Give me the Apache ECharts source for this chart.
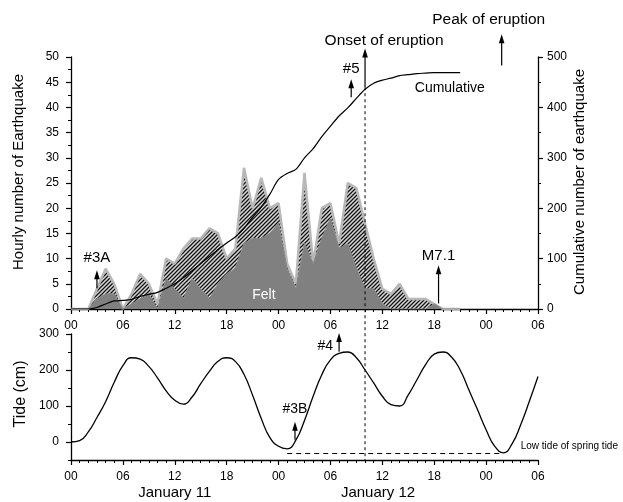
<!DOCTYPE html>
<html>
<head>
<meta charset="utf-8">
<script src="https://cdn.jsdelivr.net/npm/echarts@6/dist/echarts.min.js"></script>
<style>
html, body { margin: 0; padding: 0; background: #fff; }
#chart { width: 623px; height: 502px; }
</style>
</head>
<body>
<div id="chart"></div>
<script>
// hourly earthquake counts, hour 0 = Jan 11 00:00
var quakeHour = [0, 1, 2, 3, 4, 5, 6, 7, 8, 9, 10, 11, 12, 13, 14, 15, 16, 17, 18, 19, 20, 21, 22,
  23, 24, 25, 26, 27, 28, 29, 30, 31, 32, 33, 34, 35, 36, 37, 38, 39, 40, 41, 42, 43, 44, 45];
var totalCount = [0, 0, 0, 4, 8, 5, 0, 3, 7, 5, 1, 10, 9, 12, 14, 14, 16, 15, 10, 12, 28, 20, 26,
  20, 21, 9, 5, 27, 9, 20, 21, 13, 25, 24, 17, 10, 4, 3, 5, 2, 2, 2, 1, 0, 0, 0];
var feltCount = [0, 0, 0, 2, 3, 3, 0, 1, 2, 3, 0, 6, 4, 2, 6, 4, 2, 5, 7, 8, 13, 14, 14,
  15, 17, 8, 4, 13, 9, 14, 18, 12, 13, 8, 4, 4, 1, 0, 0, 0, 0, 0, 1, 0, 0, 0];
var cumulative = [0, 0, 0, 3, 10, 16, 17, 19, 25, 29, 33, 41, 50, 62, 76, 90, 104, 118, 131, 143, 160, 182, 202,
  228, 257, 269, 277, 300, 318, 342, 363, 383, 399, 418, 436, 448, 454, 458, 463, 465, 467, 468, 469, 469, 469, 469];

// tide level (cm)
var tideHour = [0, 1, 2, 3, 4, 5, 6, 7, 8, 9, 10, 11, 12, 13, 14, 15, 16, 17, 18, 19, 20, 21, 22, 23, 24, 25, 26, 27,
  28, 29, 30, 31, 32, 33, 34, 35, 36, 37, 38, 39, 40, 41, 42, 43, 44, 45, 46, 47, 48, 49, 50, 51, 52, 53, 54];
var tideCm = [0, 4, 28, 68, 112, 166, 212, 234, 230, 210, 178, 142, 116, 105, 125, 162, 196, 224, 234, 224, 188, 130, 65, 12, -12, -19, 5, 60,
  127, 187, 228, 246, 250, 234, 200, 164, 127, 104, 100, 131, 173, 215, 244, 250, 236, 200, 145, 90, 34, -12, -30, -5, 48, 113, 182];
var lowTideHours = [25, 49.6];
var lowTideLevel = -32;

var onsetHour = 34;
var peakHour = 49.8;
// [label, hour, arrow base, arrow tip, text value]
var topMarks = [['#3A', 3, 4.1, 7.7, 10.2], ['#5', 32.4, 42, 45.6, 47.6], ['M7.1', 42.5, 1.1, 8.7, 10.6]];
var tideMarks = [['#3B', 25.9, 6, 56, 90], ['#4', 31, 251, 303, 265]];
var dayLabels = [['January 11', 12], ['January 12', 35.5]];

var font = 'Liberation Sans, Arial, sans-serif';
var black = '#000';

function pair(xs, ys) {
  return xs.map(function (x, i) { return [x, ys[i]]; });
}
function hh(v) {
  var s = String(v % 24);
  return s.length < 2 ? '0' + s : s;
}
function hatch() {
  var c = document.createElement('canvas');
  c.width = 4; c.height = 4;
  var g = c.getContext('2d');
  g.fillStyle = '#d8d8d8';
  g.fillRect(0, 0, 4, 4);
  g.strokeStyle = '#151515';
  g.lineWidth = 1.3;
  g.beginPath();
  g.moveTo(-1, 5); g.lineTo(5, -1);
  g.moveTo(-1, 1); g.lineTo(1, -1);
  g.moveTo(3, 5); g.lineTo(5, 3);
  g.stroke();
  return c;
}
function xAxis(grid) {
  return {
    type: 'value', gridIndex: grid, min: 0, max: 54, interval: 6,
    axisLine: { show: true, onZero: false, lineStyle: { color: black, width: 1.3 } },
    axisTick: { show: true, length: 5, lineStyle: { color: black, width: 1.2 } },
    minorTick: { show: true, splitNumber: 6, length: 3, lineStyle: { color: black, width: 1 } },
    axisLabel: { formatter: hh, color: black, fontSize: 12, fontFamily: font, margin: 11 },
    splitLine: { show: false }
  };
}
function yAxis(grid, pos, min, max, interval, extra) {
  var y = {
    type: 'value', gridIndex: grid, position: pos, min: min, max: max, interval: interval,
    axisLine: { show: true, onZero: false, lineStyle: { color: black, width: 1.3 } },
    axisTick: { show: true, length: 5, lineStyle: { color: black, width: 1.2 } },
    minorTick: { show: true, splitNumber: 2, length: 3, lineStyle: { color: black, width: 1 } },
    axisLabel: { color: black, fontSize: 12, fontFamily: font, margin: pos === 'left' ? 12 : 9 },
    splitLine: { show: false }
  };
  if (extra) {
    for (var k in extra) y[k] = extra[k];
  }
  return y;
}

var chart = echarts.init(document.getElementById('chart'));
chart.setOption({
  animation: false,
  backgroundColor: '#fff',
  grid: [
    { left: 71, top: 57, width: 467, height: 252 },
    { left: 71, top: 334, width: 467, height: 126 }
  ],
  xAxis: [xAxis(0), xAxis(1)],
  yAxis: [
    yAxis(0, 'left', 0, 50, 5),
    yAxis(0, 'right', 0, 500, 100),
    yAxis(1, 'left', -50, 300, 50, {
      minorTick: { show: false },
      axisTick: { show: true, length: 5, customValues: [0, 100, 200, 300], lineStyle: { color: black, width: 1.2 } },
      axisLabel: { color: black, fontSize: 12, fontFamily: font, margin: 12, customValues: [0, 100, 200, 300] }
    }),
    yAxis(1, 'left', -50, 300, 50, {
      minorTick: { show: false },
      axisLine: { show: false, onZero: false },
      axisTick: { show: true, length: 3, lineStyle: { color: black, width: 1 } },
      axisLabel: { show: false }
    })
  ],
  series: [
    {
      type: 'line', xAxisIndex: 0, yAxisIndex: 0, data: pair(quakeHour, totalCount),
      symbol: 'none', z: 1, silent: true,
      lineStyle: { color: '#b8b8b8', width: 2.5 },
      areaStyle: { color: { image: hatch(), repeat: 'repeat' }, opacity: 1 }
    },
    {
      type: 'line', xAxisIndex: 0, yAxisIndex: 0, data: pair(quakeHour, feltCount),
      symbol: 'none', z: 2, silent: true,
      lineStyle: { color: '#8a8a8a', width: 1 },
      areaStyle: { color: '#808080', opacity: 1 }
    },
    {
      type: 'line', xAxisIndex: 0, yAxisIndex: 1, data: pair(quakeHour, cumulative),
      symbol: 'none', z: 3, smooth: 0.3, silent: true,
      lineStyle: { color: black, width: 1.2 }
    },
    {
      type: 'line', xAxisIndex: 1, yAxisIndex: 2, data: pair(tideHour, tideCm),
      symbol: 'none', z: 3, smooth: 0.5, silent: true,
      lineStyle: { color: black, width: 1.3 }
    },
    {
      type: 'line', xAxisIndex: 1, yAxisIndex: 2,
      data: pair(lowTideHours, [lowTideLevel, lowTideLevel]),
      symbol: 'none', z: 3, silent: true,
      lineStyle: { color: black, width: 1, type: [5, 4] }
    }
  ]
});

// annotations placed through the axes' scales
function pTop(h, v) { return chart.convertToPixel({ xAxisIndex: 0, yAxisIndex: 0 }, [h, v]); }
function pTide(h, v) { return chart.convertToPixel({ xAxisIndex: 1, yAxisIndex: 2 }, [h, v]); }
function arrow(base, tip) {
  var x = base[0];
  return [
    { type: 'line', z: 100, shape: { x1: x, y1: base[1], x2: x, y2: tip[1] + 6 }, style: { stroke: black, lineWidth: 1.2 } },
    { type: 'polygon', z: 100, shape: { points: [[x, tip[1]], [x - 2.8, tip[1] + 9], [x + 2.8, tip[1] + 9]] }, style: { fill: black } }
  ];
}
function text(p, s, size, color, align, rot) {
  return {
    type: 'text', z: 100, x: p[0], y: p[1], rotation: rot || 0,
    style: { text: s, fontSize: size, fontFamily: font, fill: color || black, align: align || 'center', verticalAlign: 'middle' }
  };
}

var g = [];
topMarks.forEach(function (m) {
  g = g.concat(arrow(pTop(m[1], m[2]), pTop(m[1], m[3])));
  g.push(text(pTop(m[1], m[4]), m[0], 15));
});
tideMarks.forEach(function (m) {
  g = g.concat(arrow(pTide(m[1], m[2]), pTide(m[1], m[3])));
  g.push(text(m[0] === '#4' ? pTide(29.4, m[4]) : pTide(m[1], m[4]), m[0], 14));
});

// onset of eruption
var onBase = pTop(onsetHour, 44);
g = g.concat(arrow(onBase, pTop(onsetHour, 51.7)));
g.push(text(pTop(onsetHour + 2.2, 53.2), 'Onset of eruption', 15.5));
var onEnd = pTide(onsetHour, -50);
g.push({ type: 'line', z: 100, shape: { x1: onBase[0], y1: onBase[1], x2: onEnd[0], y2: onEnd[1] },
  style: { stroke: black, lineWidth: 1, lineDash: [3, 3] } });

// peak of eruption
g = g.concat(arrow(pTop(peakHour, 48.3), pTop(peakHour, 54.5)));
g.push(text(pTop(peakHour - 1.5, 57.4), 'Peak of eruption', 15.5));

g.push(text(pTop(43.8, 43.8), 'Cumulative', 14));
g.push(text(pTop(22.3, 2.7), 'Felt', 14, '#fff'));
g.push(text(pTide(52, -13), 'Low tide of spring tide', 10, black, 'left'));

dayLabels.forEach(function (d) {
  g.push(text([pTide(d[1], 0)[0], 493], d[0], 15));
});

// axis titles
g.push(text([19, 172], 'Hourly number of Earthquake', 15, black, 'center', Math.PI / 2));
g.push(text([580, 182], 'Cumulative number of earthquake', 15, black, 'center', Math.PI / 2));
g.push(text([21, 394], 'Tide (cm)', 16, black, 'center', Math.PI / 2));

chart.setOption({ graphic: g });
</script>
</body>
</html>
